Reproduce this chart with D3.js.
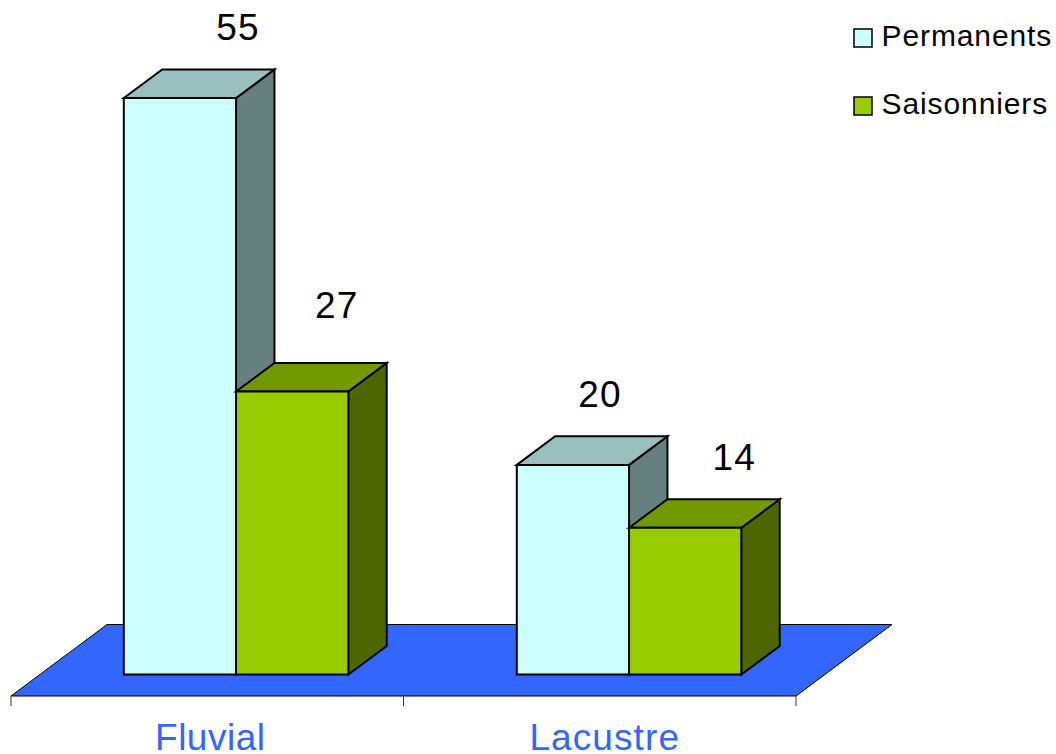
<!DOCTYPE html>
<html>
<head>
<meta charset="utf-8">
<script src="https://cdn.jsdelivr.net/npm/d3@7"></script>
<style>
html,body{margin:0;padding:0;background:#fff;overflow:hidden}
svg{display:block}
text{font-family:"Liberation Sans",Arial,sans-serif}
</style>
</head>
<body>
<svg id="chart" width="1056" height="754"></svg>
<script>
const categories = ["Fluvial", "Lacustre"];
const seriesNames = ["Permanents", "Saisonniers"];
const permanents = [55, 20];
const saisonniers = [27, 14];
const frontColors = ["#CCFFFF", "#99CC00"];
const topColors = ["#99BFBF", "#739900"];
const sideColors = ["#667F7F", "#4D6600"];
const floorColor = "#3366FF";

const labelNudgeX = [[58, 44.5], [27, 49]];
const labelNudgeY = [[-58, -74], [-57.5, -58]];
const categorySpacing = [0.5, 1.1];
const categoryNudge = [0, 2];

const svg = d3.select("#chart");
const floor = {x0: 11, x1: 796, y: 696, dx: 96, dy: -71.5};
const barDepth = {start: 0.3, size: 0.4};

const x = d3.scaleBand().domain(categories).range([floor.x0, floor.x1]);
const inner = d3.scaleBand().domain(seriesNames).range([0, 224.5]);
const baseY = floor.y + floor.dy * barDepth.start;
const y = d3.scaleLinear().domain([0, 55]).range([baseY, 98]);
const shiftX = floor.dx * barDepth.start;
const depthX = floor.dx * barDepth.size;
const depthY = floor.dy * barDepth.size;
const line = d3.line();

// floor
svg.append("path")
  .attr("d", line([[floor.x0, floor.y], [floor.x1, floor.y], [floor.x1 + floor.dx, floor.y + floor.dy], [floor.x0 + floor.dx, floor.y + floor.dy]]) + "Z")
  .attr("fill", floorColor).attr("stroke", "#000").attr("stroke-width", 1);

// axis ticks + labels
const tickXs = [...categories.map(c => x(c)), floor.x1];
svg.selectAll("line.tick").data(tickXs).join("line").attr("class", "tick")
  .attr("x1", d => d).attr("x2", d => d)
  .attr("y1", floor.y).attr("y2", floor.y + 10)
  .attr("stroke", "#333").attr("stroke-width", 1);
svg.selectAll("text.cat").data(categories).join("text").attr("class", "cat")
  .attr("x", (d, i) => x(d) + x.bandwidth() / 2 + 3 + categoryNudge[i])
  .attr("y", 750)
  .attr("text-anchor", "middle")
  .attr("font-size", 37)
  .attr("letter-spacing", (d, i) => categorySpacing[i])
  .attr("fill", floorColor)
  .text(d => d);

// bars
const values = [permanents, saisonniers];
categories.forEach((cat, ci) => {
  const groupLeft = x(cat) + (x.bandwidth() - inner.range()[1]) / 2 + shiftX + ci * 0.5;
  seriesNames.forEach((name, si) => {
    const v = values[si][ci];
    const l = groupLeft + inner(name);
    const r = l + inner.bandwidth();
    const t = y(v), b = y(0);
    const g = svg.append("g")
      .attr("stroke", "#000").attr("stroke-width", 2).attr("stroke-linejoin", "miter");
    g.append("path")
      .attr("d", line([[r, t], [r + depthX, t + depthY], [r + depthX, b + depthY], [r, b]]) + "Z")
      .attr("fill", sideColors[si]);
    g.append("path")
      .attr("d", line([[l, t], [l + depthX, t + depthY], [r + depthX, t + depthY], [r, t]]) + "Z")
      .attr("fill", topColors[si]);
    g.append("path")
      .attr("d", line([[l, t], [r, t], [r, b], [l, b]]) + "Z")
      .attr("fill", frontColors[si]);
    svg.append("text")
      .attr("x", (l + r) / 2 + labelNudgeX[ci][si])
      .attr("y", t + labelNudgeY[ci][si])
      .attr("text-anchor", "middle")
      .attr("font-size", 37)
      .attr("letter-spacing", 1)
      .attr("fill", "#000")
      .text(v);
  });
});

// legend
const legendY = d3.scalePoint().domain(seriesNames).range([46, 114]);
seriesNames.forEach((name, si) => {
  svg.append("rect")
    .attr("x", 854).attr("y", legendY(name) - 17)
    .attr("width", 18).attr("height", 18)
    .attr("fill", frontColors[si])
    .attr("stroke", "#000").attr("stroke-width", 1.5);
  svg.append("text")
    .attr("x", 881.5).attr("y", legendY(name))
    .attr("font-size", 30)
    .attr("letter-spacing", 0.9)
    .attr("fill", "#000")
    .text(name);
});
</script>
</body>
</html>
